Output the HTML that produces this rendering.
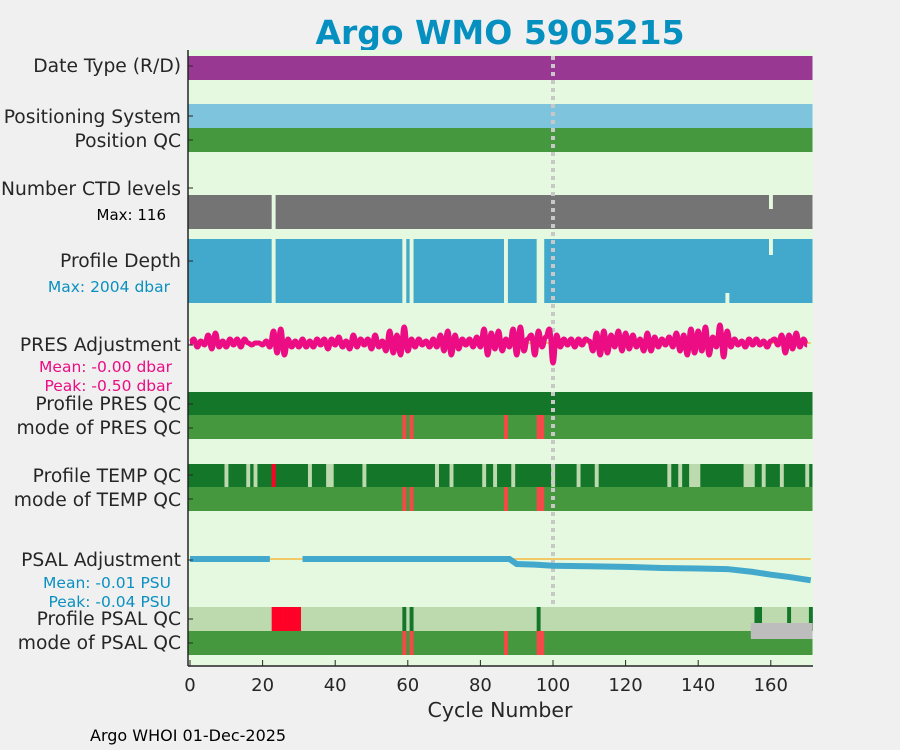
<!DOCTYPE html>
<html><head><meta charset="utf-8"><style>
body{margin:0;background:#f0f0f0;}
svg{display:block;font-family:"DejaVu Sans","Liberation Sans",sans-serif;}
</style></head><body>
<svg id="chart" width="900" height="750" viewBox="0 0 900 750">
<rect x="0" y="0" width="900" height="750" fill="#f0f0f0"/>
<text x="500" y="44" text-anchor="middle" font-size="33" font-weight="bold" fill="#0590c0">Argo WMO 5905215</text>
<rect x="188" y="50" width="625" height="616" fill="#e4f9df"/>
<g id="marks"></g>
<g id="axes" fill="#262626" font-size="18.7">
<text x="181" y="72" text-anchor="end">Date Type (R/D)</text>
<text x="181" y="123" text-anchor="end">Positioning System</text>
<text x="181" y="147" text-anchor="end">Position QC</text>
<text x="181" y="195" text-anchor="end">Number CTD levels</text>
<text x="166" y="220" text-anchor="end" font-size="15" fill="#000">Max: 116</text>
<text x="181" y="267" text-anchor="end">Profile Depth</text>
<text x="170" y="292" text-anchor="end" font-size="15.5" fill="#0a90c0">Max: 2004 dbar</text>
<text x="181" y="351" text-anchor="end">PRES Adjustment</text>
<text x="172" y="372" text-anchor="end" font-size="15.5" fill="#ec0c84">Mean: -0.00 dbar</text>
<text x="172" y="391" text-anchor="end" font-size="15.5" fill="#ec0c84">Peak: -0.50 dbar</text>
<text x="181" y="410" text-anchor="end">Profile PRES QC</text>
<text x="181" y="434" text-anchor="end">mode of PRES QC</text>
<text x="181" y="482" text-anchor="end">Profile TEMP QC</text>
<text x="181" y="506" text-anchor="end">mode of TEMP QC</text>
<text x="181" y="566" text-anchor="end">PSAL Adjustment</text>
<text x="171" y="588" text-anchor="end" font-size="15.5" fill="#0a90c0">Mean: -0.01 PSU</text>
<text x="171" y="607" text-anchor="end" font-size="15.5" fill="#0a90c0">Peak: -0.04 PSU</text>
<text x="181" y="625" text-anchor="end">Profile PSAL QC</text>
<text x="181" y="649" text-anchor="end">mode of PSAL QC</text>
<text x="500" y="717" text-anchor="middle" font-size="20.5">Cycle Number</text>
<text x="90" y="741" font-size="16" fill="#000">Argo WHOI 01-Dec-2025</text>
</g>
</svg>
<script>
const xTicks=[0,20,40,60,80,100,120,140,160];
const nCycles=172;
const ctdGaps=[23];
const depthGaps=[23,59,61,87,96,97];
const presQcBad=[59,61,87,96,97];
const tempQcProbable=[10,16,18,33,38,39,48,68,72,81,84,89,100,107,112,132,135,138,139,140,153,154,155,158,163,170];
const tempQcBad=[23];
const psalQcBad=[23,24,25,26,27,28,29,30];
const psalQcGood=[59,61,96,156,157,165,171];
const presAdj=[0,0.1,-0.1,0.05,-0.05,0.2,-0.15,0.25,-0.1,0.05,-0.1,0.1,-0.05,0.1,-0.1,0.1,0,-0.05,0,0,-0.05,0.05,-0.1,0.3,-0.25,0.35,-0.3,0.1,-0.1,0.05,-0.1,0.1,-0.1,0.05,-0.1,0.1,-0.05,0.1,-0.15,0.1,-0.05,0.15,-0.1,0.05,-0.15,0.2,-0.1,0.1,-0.05,0.1,-0.15,0.2,-0.1,0.05,-0.2,0.3,-0.25,0.2,-0.3,0.4,-0.2,0.1,-0.1,0.1,-0.05,0.05,-0.1,0.1,-0.1,0.2,-0.2,0.3,-0.3,0.2,-0.15,0.1,-0.05,0.1,-0.1,0.15,-0.1,0.35,-0.3,0.25,-0.15,0.3,-0.2,0.1,-0.1,0.35,-0.3,0.4,-0.2,0.1,0.2,-0.3,0.3,-0.1,0.15,0.35,-0.5,0.2,-0.1,0.1,-0.05,0.1,-0.1,0.1,-0.05,0.1,0.05,-0.2,0.25,-0.3,0.3,-0.25,0.2,-0.1,0.3,-0.2,0.25,-0.15,0.2,-0.1,0.1,-0.2,0.25,-0.2,0.15,-0.1,0.1,-0.05,0.15,-0.1,0.25,-0.2,0.2,-0.3,0.35,-0.25,0.3,-0.2,0.4,-0.3,0.15,-0.1,0.45,-0.35,0.3,-0.1,0.1,-0.05,0.05,-0.1,0.1,-0.05,0.1,-0.05,0.05,-0.1,0.05,0.1,-0.05,0.2,-0.25,0.2,-0.15,0.25,-0.1,0.1,-0.05];
const psalCycles=[0,22,31,60,86,88,90,95,100,110,120,130,140,148,155,160,165,171];
const psalAdj=[0,0,0,0,0,0,-0.009,-0.010,-0.012,-0.013,-0.014,-0.016,-0.017,-0.018,-0.023,-0.028,-0.032,-0.038];

const X0=190, SX=3.63;
const xs=c=>X0+c*SX;
const presY=v=>343-v*40;
const psalY=v=>559-v*560;
const marks=document.getElementById('marks');
const axes=document.getElementById('axes');
const NS='http://www.w3.org/2000/svg';
function mk(tag,attrs,parent){const e=document.createElementNS(NS,tag);for(const k in attrs)e.setAttribute(k,attrs[k]);(parent||marks).appendChild(e);return e;}
function cell(c,y0,h,fill,name){const e=mk('rect',{x:xs(c-0.5),y:y0,width:SX+0.3,height:h,fill:fill});


return e;}
function band(y0,h,fill,name){const e=mk('rect',{x:xs(-0.5),y:y0,width:812.5-xs(-0.5),height:h,fill:fill});

}
function gap(list,y0,h,name){list.forEach(c=>cell(c,y0,h,'#e4f9df',name));}
band(56,24,'#993893','date-type-band');
band(104,24,'#7ec4dd','positioning-system-band');
band(128,24,'#46983f','position-qc-band');
band(195,34,'#747474','ctd-levels-band');
gap(ctdGaps,195,34,'ctd-gap');
cell(160,195,14,'#e4f9df','ctd-short');
band(239,64,'#42a9cc','profile-depth-band');
gap(depthGaps,239,64,'depth-gap');
cell(160,239,16,'#e4f9df','depth-short');
cell(148,293,10,'#e4f9df','depth-short');
band(392,23,'#137629','profile-pres-qc-band');
band(415,24,'#46983f','mode-pres-qc-band');
presQcBad.forEach(c=>cell(c,415,24,'#f54848','pres-qc-bad'));
band(464,23,'#137629','profile-temp-qc-band');
tempQcProbable.forEach(c=>cell(c,464,23,'#bcdaad','temp-qc-probable'));
tempQcBad.forEach(c=>cell(c,464,23,'#ff0027','temp-qc-bad'));
band(487,24,'#46983f','mode-temp-qc-band');
presQcBad.forEach(c=>cell(c,487,24,'#f54848','temp-mode-bad'));
band(607,24,'#bcdaad','profile-psal-qc-band');
psalQcBad.forEach(c=>cell(c,607,24,'#ff0027','psal-qc-bad'));
psalQcGood.forEach(c=>cell(c,607,24,'#137629','psal-qc-good'));
band(631,24,'#46983f','mode-psal-qc-band');
presQcBad.forEach(c=>cell(c,631,24,'#f54848','psal-mode-bad'));
const gb=mk('rect',{x:xs(154.5),y:623,width:812.5-xs(154.5),height:16,fill:'#bdbdbd'});


const dv=mk('line',{x1:xs(100),y1:56,x2:xs(100),y2:605,stroke:'#c8c8c8','stroke-width':4,'stroke-dasharray':'4 4'});


const zl=mk('line',{x1:xs(0),y1:presY(0),x2:xs(nCycles-1),y2:presY(0),stroke:'#f5b942','stroke-width':1.5});


let d='';
for(let i=0;i<presAdj.length;i++){const x=xs(i),y=presY(presAdj[i]);
if(i===0)d='M'+x+' '+y;else{const px=xs(i-1),py=presY(presAdj[i-1]);d+=' C'+(px+SX/2)+' '+py+' '+(x-SX/2)+' '+y+' '+x+' '+y;}}
const pl=mk('path',{d:d,fill:'none',stroke:'#ec0c84','stroke-width':5,'stroke-linejoin':'round'});


const ol=mk('line',{x1:xs(0),y1:psalY(0),x2:xs(nCycles-1),y2:psalY(0),stroke:'#f5b942','stroke-width':1.5});


function psalPath(from,to){let p='';for(let i=from;i<=to;i++){p+=(i===from?'M':'L')+xs(psalCycles[i])+' '+psalY(psalAdj[i])+' ';}return p;}
[[0,1],[2,psalCycles.length-1]].forEach(s=>{const l=mk('path',{d:psalPath(s[0],s[1]),fill:'none',stroke:'#42a9cc','stroke-width':6});

});
const ya=mk('line',{x1:188,y1:50,x2:188,y2:666,stroke:'#262626','stroke-width':1.5},axes);


const xa=mk('line',{x1:188,y1:666,x2:813,y2:666,stroke:'#262626','stroke-width':1.5},axes);


[66,116,140,188,261,345,404,428,475,499,560,619,643].forEach(y=>{const t=mk('line',{x1:188,y1:y,x2:193,y2:y,stroke:'#262626','stroke-width':1},axes);

});
xTicks.forEach(v=>{const t=mk('line',{x1:xs(v),y1:666,x2:xs(v),y2:660,stroke:'#262626','stroke-width':1},axes);


const l=mk('text',{x:xs(v),y:691,'text-anchor':'middle','font-size':18},axes);
l.textContent=v;

});
</script>
</body></html>
